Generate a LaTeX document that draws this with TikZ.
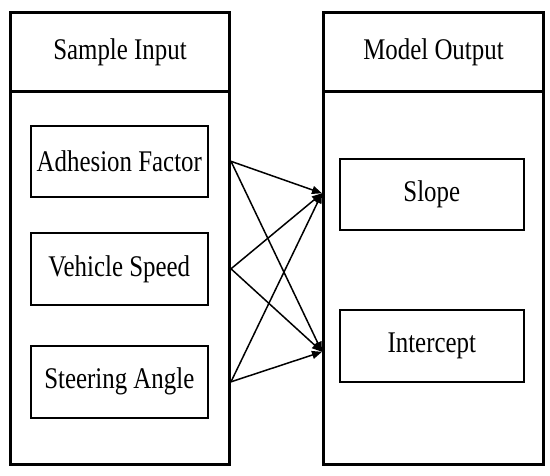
\documentclass[tikz,border=0pt]{standalone}
\usepackage{fontspec}
\setmainfont[FakeStretch=0.83]{Liberation Serif}
\usetikzlibrary{arrows.meta}
\begin{document}
\begin{tikzpicture}[x=1pt,y=-1pt,
  outer/.style={draw,line width=3pt,inner sep=0pt,anchor=north west},
  inbox/.style={draw,line width=1.6pt,inner sep=0pt,anchor=north west,font=\fontsize{30}{32}\selectfont},
  hbox/.style={outer,font=\fontsize{30}{32}\selectfont},
  conn/.style={line width=1.5pt,-{Triangle[length=10pt,width=8pt]}}]
\useasboundingbox (0,0) rectangle (550,475);
% left column
\node[hbox,minimum width=219pt,minimum height=79pt] (lhead) at (9,11) {Sample Input};
\node[outer,minimum width=219pt,minimum height=373pt] (lbody) at (9,90) {};
\node[inbox,minimum width=177pt,minimum height=71pt] (adh) at (30,125) {Adhesion Factor};
\node[inbox,minimum width=177pt,minimum height=72pt] (spd) at (30,232) {Vehicle Speed};
\node[inbox,minimum width=177pt,minimum height=72pt] (ste) at (30,345) {Steering Angle};
% right column
\node[hbox,minimum width=220pt,minimum height=79pt] (rhead) at (322,11) {Model Output};
\node[outer,minimum width=220pt,minimum height=373pt] (rbody) at (322,90) {};
\node[inbox,minimum width=184pt,minimum height=71pt] (slope) at (339,158) {Slope};
\node[inbox,minimum width=184pt,minimum height=72pt] (inter) at (339,309) {Intercept};
% connector end points on the column borders
\coordinate (s1) at (lbody.east |- adh.east);
\coordinate (s2) at (lbody.east |- spd.east);
\coordinate (s3) at (lbody.east |- ste.east);
\coordinate (t1) at ([yshift=1pt]rbody.west |- slope.west);
\coordinate (t2) at ([yshift=-6pt]rbody.west |- inter.west);
\foreach \s in {s1,s2,s3}{
  \draw[conn] (\s) -- (t1);
  \draw[conn] (\s) -- (t2);
}
\end{tikzpicture}
\end{document}
